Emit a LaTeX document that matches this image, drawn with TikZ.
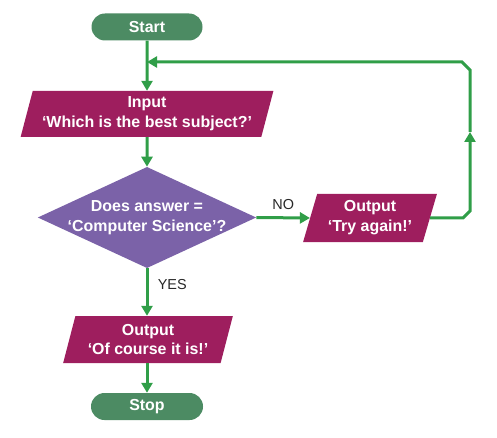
\documentclass[tikz,border=0pt]{standalone}
\usepackage{fontspec}
\setmainfont{Liberation Sans}
\usetikzlibrary{shapes.geometric,arrows.meta}

\definecolor{termgreen}{RGB}{76,139,99}
\definecolor{iomagenta}{RGB}{158,30,94}
\definecolor{decpurple}{RGB}{123,98,168}
\definecolor{linegreen}{RGB}{48,158,72}
\definecolor{labelgray}{RGB}{40,40,40}

\tikzset{
    terminal/.style={draw=none, fill=termgreen, rounded corners=13.5bp,
        minimum width=111bp, minimum height=27bp, inner sep=0pt,
        text=white, font=\fontsize{16}{20}\selectfont\bfseries},
    io/.style={trapezium, trapezium left angle=72, trapezium right angle=108,
        trapezium stretches=true, fill=iomagenta, inner sep=0pt,
        text=white, align=center, font=\fontsize{16}{20}\selectfont\bfseries},
    decision/.style={diamond, fill=decpurple, inner xsep=-7bp, inner ysep=0pt,
        aspect=2.16, minimum width=218bp, minimum height=101bp,
        text=white, align=center, font=\fontsize{16}{20}\selectfont\bfseries},
    flow/.style={draw=linegreen, line width=3bp,
        -{Triangle[length=10bp,width=11bp]}},
    line/.style={draw=linegreen, line width=3bp},
    answer/.style={text=labelgray, font=\fontsize{14.5}{16}\selectfont}
}

\begin{document}
\begin{tikzpicture}[x=1bp,y=-1bp]
    \useasboundingbox (0,0) rectangle (497,438);

    % boxes
    \node[terminal] (start) at (147,27) {Start};
    \node[io, minimum width=253bp, minimum height=46bp] (input) at (147,114)
        {Input\\‘Which is the best subject?’};
    \node[decision] (dec) at (147,217.5) {Does answer =\\‘Computer Science’?};
    \node[io, minimum width=134bp, minimum height=48bp] (try) at (370,218)
        {Output\\‘Try again!’};
    \node[io, minimum width=170bp, minimum height=47bp] (out) at (148,339.5)
        {Output\\‘Of course it is!’};
    \node[terminal, minimum width=112bp] (stop) at (147,406.5) {Stop};

    \coordinate (merge) at (147,62);
    \coordinate (up) at (470,132);

    % connectors
    \draw[flow] (start.south) -- (input.north);
    \draw[flow] (input.south) -- (dec.north);
    \draw[flow] (dec.east) -- node[answer, above=3bp] {NO} (try.west);
    \draw[flow] (dec.south) -- node[answer, right=6bp, pos=0.35] {YES} (out.north -| dec.south);
    \draw[flow] (out.south -| stop.north) -- (stop.north);

    % loop back
    \draw[flow] (try.east) -- (463,218) -- (470,211) -- (up);
    \draw[flow] (up) -- (470,70) -- (462,62) -- (merge);
\end{tikzpicture}
\end{document}
